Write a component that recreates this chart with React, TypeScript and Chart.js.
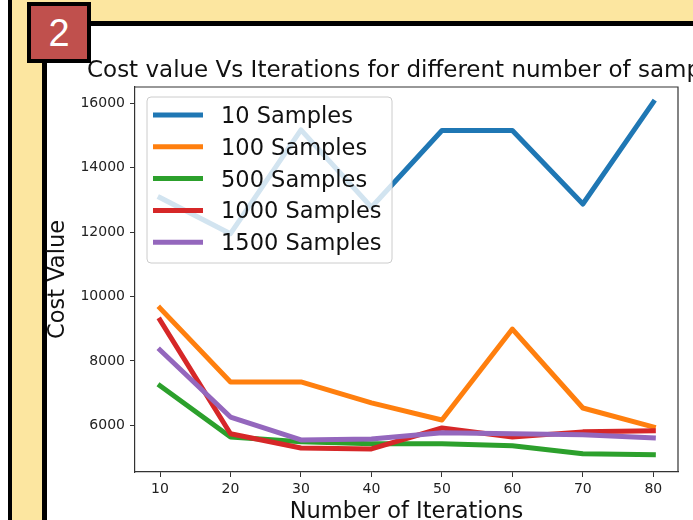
import React, { useEffect, useRef } from "react";
import { Chart, registerables } from "chart.js";

Chart.register(...registerables);

const iterations = [10, 20, 30, 40, 50, 60, 70, 80];
const samples10 = [13070, 11950, 15170, 12770, 15150, 15150, 12870, 16030];
const samples100 = [9640, 7350, 7350, 6700, 6170, 8990, 6540, 5950];
const samples500 = [7230, 5640, 5490, 5430, 5430, 5370, 5120, 5090];
const samples1000 = [9270, 5740, 5300, 5270, 5920, 5640, 5800, 5830];
const samples1500 = [8340, 6260, 5550, 5580, 5770, 5740, 5710, 5610];
const seriesLabels = ["10 Samples", "100 Samples", "500 Samples", "1000 Samples", "1500 Samples"];
const seriesColors = ["#1f77b4", "#ff7f0e", "#2ca02c", "#d62728", "#9467bd"];
const yTicks = [6000, 8000, 10000, 12000, 14000, 16000];
const xTicks = [10, 20, 30, 40, 50, 60, 70, 80];
const titleText = "Cost value Vs Iterations for different number of samples";
const xLabel = "Number of Iterations";
const yLabel = "Cost Value";
const badgeText = "2";

const FONT = '"DejaVu Sans", sans-serif';
const YELLOW = "#FCE6A0";

const decorPlugin = {
  id: "decor",
  afterDatasetsDraw(chart: any) {
    const { ctx, chartArea } = chart;
    const { left, right, top, bottom } = chartArea;
    ctx.save();
    // spines top/right
    ctx.strokeStyle = "#333";
    ctx.lineWidth = 1.2;
    ctx.beginPath();
    ctx.moveTo(left, top);
    ctx.lineTo(right, top);
    ctx.lineTo(right, bottom);
    ctx.stroke();

    // legend
    const lx = 147, ly = 97, lw = 245, lh = 166, r = 4;
    ctx.beginPath();
    ctx.moveTo(lx + r, ly);
    ctx.lineTo(lx + lw - r, ly);
    ctx.arcTo(lx + lw, ly, lx + lw, ly + r, r);
    ctx.lineTo(lx + lw, ly + lh - r);
    ctx.arcTo(lx + lw, ly + lh, lx + lw - r, ly + lh, r);
    ctx.lineTo(lx + r, ly + lh);
    ctx.arcTo(lx, ly + lh, lx, ly + lh - r, r);
    ctx.lineTo(lx, ly + r);
    ctx.arcTo(lx, ly, lx + r, ly, r);
    ctx.closePath();
    ctx.fillStyle = "rgba(255,255,255,0.8)";
    ctx.fill();
    ctx.strokeStyle = "#cccccc";
    ctx.lineWidth = 1;
    ctx.stroke();

    ctx.font = `22.5px ${FONT}`;
    ctx.textAlign = "left";
    ctx.textBaseline = "alphabetic";
    chart.data.datasets.forEach((ds: any, i: number) => {
      const y = 115 + i * 31.8;
      ctx.strokeStyle = ds.borderColor;
      ctx.lineWidth = 5;
      ctx.lineCap = "butt";
      ctx.beginPath();
      ctx.moveTo(153, y);
      ctx.lineTo(203, y);
      ctx.stroke();
      ctx.fillStyle = "#111";
      ctx.fillText(ds.label, 221, y + 8);
    });

    // title
    ctx.fillStyle = "#111";
    ctx.font = `23px ${FONT}`;
    ctx.textAlign = "left";
    ctx.fillText(titleText, 87, 77);

    // x label
    ctx.font = `22.5px ${FONT}`;
    ctx.textAlign = "center";
    ctx.fillText(xLabel, (left + right) / 2, 518);

    // y label
    ctx.translate(64, (top + bottom) / 2);
    ctx.rotate(-Math.PI / 2);
    ctx.textAlign = "center";
    ctx.textBaseline = "alphabetic";
    ctx.fillText(yLabel, 0, 0);
    ctx.restore();
  },
};

export default function App() {
  const ref = useRef<HTMLCanvasElement>(null);
  useEffect(() => {
    const series = [samples10, samples100, samples500, samples1000, samples1500];
    const chart = new Chart(ref.current as HTMLCanvasElement, {
      type: "line",
      data: {
        labels: iterations,
        datasets: series.map((vals, i) => ({
          label: seriesLabels[i],
          data: vals.map((v, j) => ({ x: iterations[j], y: v })),
          borderColor: seriesColors[i],
          backgroundColor: seriesColors[i],
          borderWidth: 5,
          pointRadius: 0,
          tension: 0,
          fill: false,
          borderJoinStyle: "round",
          borderCapStyle: "square",
          order: 4 - i,
        })),
      },
      options: {
        responsive: false,
        maintainAspectRatio: false,
        animation: false,
        devicePixelRatio: 1,
        layout: { padding: { left: 0, right: 15, top: 87, bottom: 0 } },
        plugins: {
          legend: { display: false },
          title: { display: false },
          tooltip: { enabled: false },
        },
        scales: {
          x: {
            type: "linear",
            min: 6.45,
            max: 83.5,
            afterBuildTicks: (scale: any) => {
              scale.ticks = xTicks.map((v) => ({ value: v }));
            },
            afterFit: (scale: any) => {
              scale.height = 48;
              scale.paddingLeft = 0;
              scale.paddingRight = 0;
              scale.paddingTop = 0;
              scale.paddingBottom = 0;
            },
            grid: {
              drawOnChartArea: false,
              drawTicks: true,
              tickLength: 5,
              tickColor: "#333",
              tickWidth: 1,
            },
            border: { display: true, color: "#333", width: 1.2 },
            ticks: {
              autoSkip: false,
              maxRotation: 0,
              padding: 4,
              color: "#222",
              font: { family: FONT, size: 14 },
              callback: (v: any) => String(v),
            },
          },
          y: {
            type: "linear",
            min: 4555,
            max: 16500,
            afterBuildTicks: (scale: any) => {
              scale.ticks = yTicks.map((v) => ({ value: v }));
            },
            afterFit: (scale: any) => {
              scale.width = 135;
              scale.paddingLeft = 0;
              scale.paddingRight = 0;
              scale.paddingTop = 0;
              scale.paddingBottom = 0;
            },
            grid: {
              drawOnChartArea: false,
              drawTicks: true,
              tickLength: 5,
              tickColor: "#333",
              tickWidth: 1,
            },
            border: { display: true, color: "#333", width: 1.2 },
            ticks: {
              autoSkip: false,
              padding: 5,
              color: "#222",
              font: { family: FONT, size: 14 },
              callback: (v: any) => String(v),
            },
          },
        },
      },
      plugins: [decorPlugin],
    } as any);
    return () => chart.destroy();
  }, []);

  return (
    <div
      style={{
        position: "fixed",
        left: 0,
        top: 0,
        width: 693,
        height: 520,
        overflow: "hidden",
        background: "#fff",
      }}
    >
      <div
        style={{
          position: "absolute",
          left: 8,
          top: -10,
          width: 720,
          height: 560,
          background: YELLOW,
          borderLeft: "4px solid #000",
        }}
      />
      <div
        style={{
          position: "absolute",
          left: 42,
          top: 21,
          width: 720,
          height: 560,
          background: "#fff",
          borderLeft: "5px solid #000",
          borderTop: "5px solid #000",
        }}
      />
      <canvas
        ref={ref}
        width={693}
        height={520}
        style={{ position: "absolute", left: 0, top: 0, width: 693, height: 520 }}
      />
      <div
        style={{
          position: "absolute",
          left: 27,
          top: 2,
          width: 64,
          height: 61,
          boxSizing: "border-box",
          background: "#C0504D",
          border: "4px solid #000",
          color: "#fff",
          font: '38px "Liberation Sans", Arial, sans-serif',
          display: "flex",
          alignItems: "center",
          justifyContent: "center",
          lineHeight: 1,
        }}
      >
        {badgeText}
      </div>
    </div>
  );
}
